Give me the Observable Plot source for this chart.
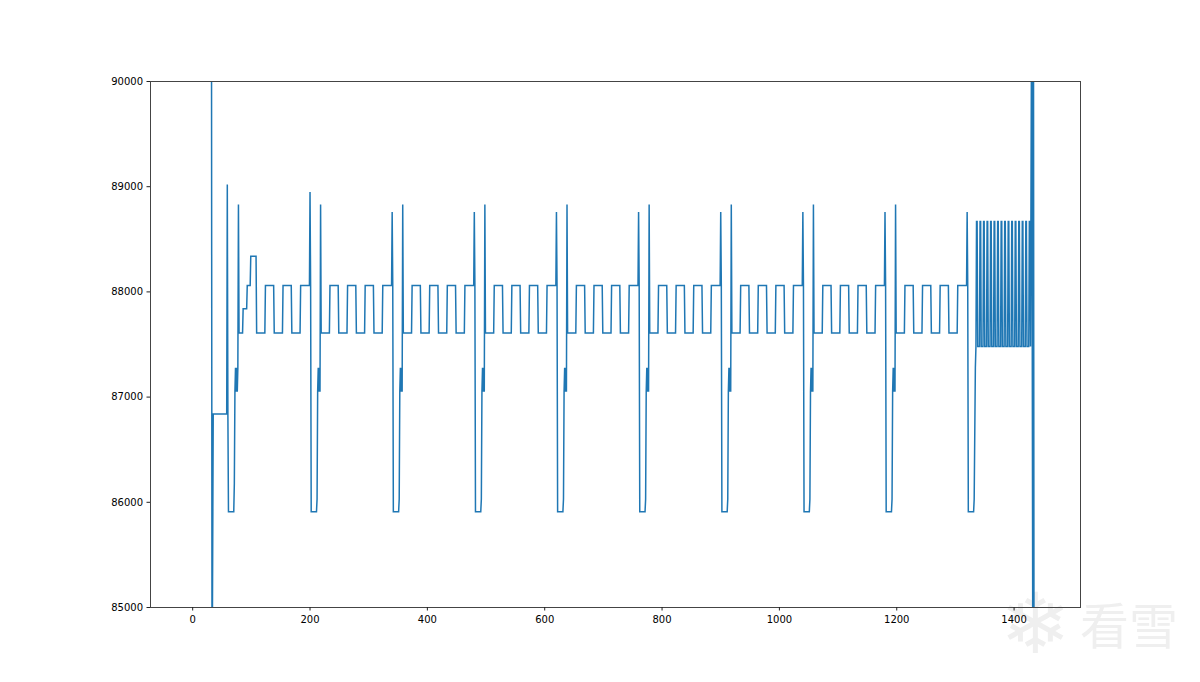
<!DOCTYPE html>
<html>
<head>
<meta charset="utf-8">
<script src="https://cdn.jsdelivr.net/npm/d3@7"></script>
<script src="https://cdn.jsdelivr.net/npm/@observablehq/plot@0.6"></script>
<style>
html,body{margin:0;padding:0;background:#fff;width:1200px;height:682px;overflow:hidden}
#wrap{position:relative;width:1200px;height:682px}
#wrap svg{position:absolute;left:0;top:0}
.wm{position:absolute;color:#efefef;line-height:1;white-space:nowrap}
</style>
</head>
<body>
<div id="wrap"></div>
<script>
const xTicks = [0,200,400,600,800,1000,1200,1400];
const yTicks = [85000,86000,87000,88000,89000,90000];

const startX = [32,33,35,58,59,60,61,70,71,72,73,74,75,76,77,78,79,85,86,92,93,98,99,108,109,123,124,138,139,153,154,168,169,183,184];
const startY = [91000,84000,86840,86840,89020,86840,85910,85910,86180,87050,87280,87050,87280,87050,87280,88830,87610,87610,87840,87840,88060,88060,88340,88340,87610,87610,88060,88060,87610,87610,88060,88060,87610,87610,88060];

const cycleY = [88060,88760,88060,85910,85910,86030,87050,87280,87050,87280,87050,88830,87610,87610,88060,88060,87610,87610,88060,88060,87610,87610,88060,88060,87610,87610,88060];
const firstCycleY = [88060,88950,88060,85910,85910,86030,87050,87280,87050,87280,87050,88830,87610,87610,88060,88060,87610,87610,88060,88060,87610,87610,88060,88060,87610,87610,88060];

const cycle200 = [199,200,201,202,211,212,213,214,215,216,217,218,219,233,234,248,249,263,264,278,279,293,294,308,309,323,324];
const cycle340 = [339,340,341,342,351,352,353,354,355,356,357,358,359,373,374,388,389,403,404,418,419,433,434,448,449,463,464];
const cycle480 = [479,480,481,482,491,492,493,494,495,496,497,498,499,513,514,528,529,543,544,558,559,573,574,588,589,603,604];
const cycle620 = [619,620,621,622,631,632,633,634,635,636,637,638,639,653,654,668,669,683,684,698,699,713,714,728,729,743,744];
const cycle760 = [759,760,761,762,771,772,773,774,775,776,777,778,779,793,794,808,809,823,824,838,839,853,854,868,869,883,884];
const cycle900 = [899,900,901,902,911,912,913,914,915,916,917,918,919,933,934,948,949,963,964,978,979,993,994,1008,1009,1023,1024];
const cycle1040 = [1039,1040,1041,1042,1051,1052,1053,1054,1055,1056,1057,1058,1059,1073,1074,1088,1089,1103,1104,1118,1119,1133,1134,1148,1149,1163,1164];
const cycle1180 = [1179,1180,1181,1182,1191,1192,1193,1194,1195,1196,1197,1198,1199,1213,1214,1228,1229,1243,1244,1258,1259,1273,1274,1288,1289,1303,1304];

const endX = [1319,1320,1321,1322,1331,1332,1334,1335,
  1336,1337,1338,1341,1342,1343,1344,1347,1348,1349,1350,1353,1354,1355,1356,1359,1360,1361,1362,1365,1366,1367,1368,1371,1372,1373,1374,1377,1378,1379,1380,1383,1384,1385,1386,1389,1390,1391,1392,1395,1396,1397,1398,1401,1402,1403,1404,1407,1408,1409,1410,1413,1414,1415,1416,1419,1420,1421,1422,1425,1426,1427,1428,
  1430,1432,1433,1434];
const endY = [88060,88760,88060,85910,85910,86030,87280,87480,
  88670,88670,87480,87480,88670,88670,87480,87480,88670,88670,87480,87480,88670,88670,87480,87480,88670,88670,87480,87480,88670,88670,87480,87480,88670,88670,87480,87480,88670,88670,87480,87480,88670,88670,87480,87480,88670,88670,87480,87480,88670,88670,87480,87480,88670,88670,87480,87480,88670,88670,87480,87480,88670,88670,87480,87480,88670,88670,87480,87480,88670,88670,87480,
  91000,84000,91000,84000];

const rows = [];
function add(xs, ys){ xs.forEach((x,i)=>rows.push({x, y:ys[i]})); }
add(startX, startY);
add(cycle200, firstCycleY);
[cycle340,cycle480,cycle620,cycle760,cycle900,cycle1040,cycle1180].forEach(c=>add(c,cycleY));
add(endX, endY);

const wrap = document.getElementById("wrap");
const flake = document.createElement("div");
flake.className="wm"; flake.textContent="❄";
flake.style.cssText="left:1000px;top:582px;font-size:84px;font-family:'DejaVu Sans'";
wrap.appendChild(flake);
const mark = document.createElement("div");
mark.className="wm"; mark.textContent="看雪";
mark.style.cssText="left:1080px;top:598px;font-size:49px;font-family:'Noto Sans CJK SC'";
wrap.appendChild(mark);

const chart = Plot.plot({
  width:1200, height:682,
  marginLeft:150, marginRight:120, marginTop:81, marginBottom:75,
  style:{background:"transparent", fontFamily:"'DejaVu Sans'", fontSize:"10px", color:"#000"},
  x:{domain:[-71.9,1513.2], label:null},
  y:{domain:[85000,90000], label:null},
  marks:[
    Plot.line(rows,{x:"x",y:"y",stroke:"#1f77b4",strokeWidth:1.5,curve:"linear",clip:true,strokeLinejoin:"miter",strokeMiterlimit:2}),
    Plot.frame({stroke:"#444",strokeWidth:1}),
    Plot.axisX({ticks:xTicks,tickSize:3.5,tickPadding:5,tickFormat:d=>String(d),label:null,anchor:"bottom",stroke:"#222",fill:"#000",fontSize:10}),
    Plot.axisY({ticks:yTicks,tickSize:3.5,tickPadding:4,tickFormat:d=>String(d),label:null,anchor:"left",stroke:"#222",fill:"#000",fontSize:10})
  ]
});
wrap.appendChild(chart);
</script>
</body>
</html>
